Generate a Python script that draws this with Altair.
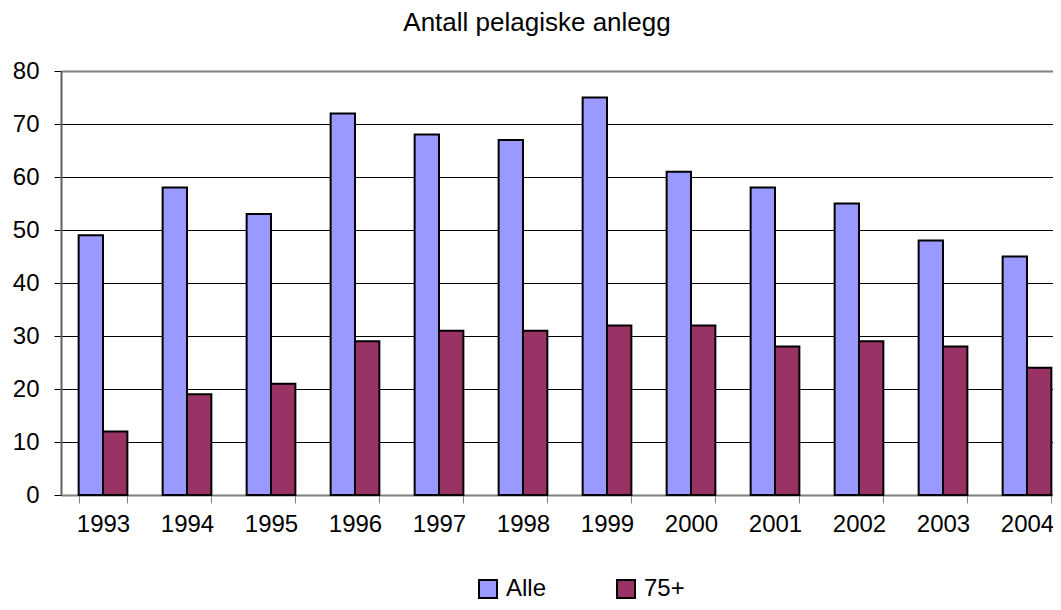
import altair as alt
import pandas as pd

years = ["1993", "1994", "1995", "1996", "1997", "1998", "1999", "2000", "2001", "2002", "2003", "2004"]
alle = [49, 58, 53, 72, 68, 67, 75, 61, 58, 55, 48, 45]
plus75 = [12, 19, 21, 29, 31, 31, 32, 32, 28, 29, 28, 24]
series = ["Alle", "75+"]
colors = ["#9999FF", "#993366"]

rows = []
for i, y in enumerate(years):
    rows.append({"year": y, "serie": "Alle", "value": alle[i]})
    rows.append({"year": y, "serie": "75+", "value": plus75[i]})
df = pd.DataFrame(rows)

FONT = "Liberation Sans"

chart = alt.Chart(df).mark_bar(stroke="black", strokeWidth=2).encode(
    x=alt.X("year:N", sort=years, title=None,
            scale=alt.Scale(range=[0, 1008], paddingInner=0.42, paddingOuter=0.21),
            axis=alt.Axis(labelAngle=0, tickBand="extent", tickSize=8, tickColor="#808080",
                          domainColor="#808080", domainWidth=2, labelFontSize=24,
                          labelPadding=9, labelColor="black", grid=False)),
    xOffset=alt.XOffset("serie:N", sort=series, scale=alt.Scale(paddingInner=0, paddingOuter=0)),
    y=alt.Y("value:Q", title=None,
            scale=alt.Scale(domain=[0, 80], nice=False),
            axis=alt.Axis(values=[0, 10, 20, 30, 40, 50, 60, 70, 80], tickSize=7,
                          tickColor="black", domainColor="#606060", domainWidth=2,
                          labelFontSize=24, labelPadding=15, labelColor="black",
                          grid=True,
                          gridColor={"condition": {"test": "datum.value === 80", "value": "#808080"}, "value": "black"},
                          gridWidth={"condition": {"test": "datum.value === 80", "value": 2}, "value": 1},
                          gridOpacity=1)),
    color=alt.Color("serie:N", sort=series,
                    scale=alt.Scale(domain=series, range=colors),
                    legend=alt.Legend(title=None, orient="none", direction="horizontal",
                                      legendX=415, legendY=506, symbolType="square",
                                      symbolSize=324, symbolStrokeColor="black",
                                      symbolStrokeWidth=2, symbolOpacity=1,
                                      labelFontSize=24, labelColor="black",
                                      labelOffset=6, columnPadding=66)),
).properties(
    width=990,
    height=424,
    autosize=alt.AutoSizeParams(type="none"),
    padding={"left": 53, "top": 63, "right": 2, "bottom": 107},
    title=alt.TitleParams("Antall pelagiske anlegg", fontSize=26, font=FONT,
                          fontWeight="normal", color="black", anchor="middle",
                          dx=-19, offset=23),
).configure(font=FONT).configure_view(stroke=None)

chart.save("out.html", embed_options={"renderer": "svg", "actions": False})
